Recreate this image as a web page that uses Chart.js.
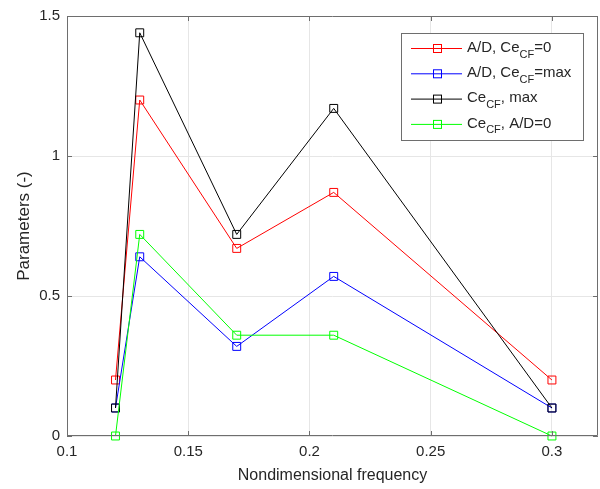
<!DOCTYPE html>
<html>
<head>
<meta charset="utf-8">
<script src="https://cdn.jsdelivr.net/npm/chart.js@4.4.1/dist/chart.umd.min.js"></script>
<style>
  html, body { margin: 0; padding: 0; background: #fff; }
  #wrap { width: 600px; height: 489px; }
</style>
</head>
<body>
<div id="wrap"><canvas id="paramChart" width="600" height="489"></canvas></div>
<script>
// data
const freqs = [0.12, 0.13, 0.17, 0.21, 0.3];
const adCeZero = [0.2, 1.2, 0.67, 0.87, 0.2];
const adCeMax = [0.1, 0.64, 0.32, 0.57, 0.1];
const ceMax = [0.1, 1.44, 0.72, 1.17, 0.1];
const ceAdZero = [0, 0.72, 0.36, 0.36, 0];

const xTicks = [0.1, 0.15, 0.2, 0.25, 0.3];
const xTickLabels = ["0.1", "0.15", "0.2", "0.25", "0.3"];
const yTicks = [0, 0.5, 1, 1.5];
const yTickLabels = ["0", "0.5", "1", "1.5"];

// legend labels: [main, subscript, rest]
const legendLabels = [
    ["A/D, Ce", "CF", "=0"],
    ["A/D, Ce", "CF", "=max"],
    ["Ce", "CF", ", max"],
    ["Ce", "CF", ", A/D=0"]
];
const seriesColors = ["#ff0000", "#0000ff", "#000000", "#00ff00"];

const FONT = "'Liberation Sans', Arial, Helvetica, sans-serif";
const AXIS_COLOR = "#262626";
const FRAME_COLOR = "#6e6e6e";

function to_points(ys) {
    return freqs.map((x, i) => ({ x: x, y: ys[i] }));
}

function make_dataset(ys, idx) {
    return {
        data: to_points(ys),
        borderColor: seriesColors[idx],
        borderWidth: 1,
        backgroundColor: 'rgba(0,0,0,0)',
        pointStyle: 'rect',
        pointRadius: 5.6,
        pointBorderWidth: 1,
        pointBackgroundColor: 'rgba(0,0,0,0)',
        pointBorderColor: seriesColors[idx],
        tension: 0,
        clip: 8,
        order: 4 - idx
    };
}

// frame, inward ticks and the legend box (MATLAB style)
const framePlugin = {
    id: 'frame',
    afterDatasetsDraw(chart) {
        const ctx = chart.ctx;
        const a = chart.chartArea;
        const xs = chart.scales.x, ys = chart.scales.y;
        ctx.save();
        ctx.strokeStyle = FRAME_COLOR;
        ctx.lineWidth = 1;
        ctx.beginPath();
        ctx.rect(a.left + 0.5, a.top + 0.5, a.right - a.left - 1, a.bottom - a.top - 1);
        ctx.stroke();
        ctx.beginPath();
        xTicks.forEach(v => {
            const px = Math.round(xs.getPixelForValue(v)) + 0.5;
            ctx.moveTo(px, a.bottom); ctx.lineTo(px, a.bottom - 5);
            ctx.moveTo(px, a.top); ctx.lineTo(px, a.top + 5);
        });
        yTicks.forEach(v => {
            const py = Math.round(ys.getPixelForValue(v)) + 0.5;
            ctx.moveTo(a.left, py); ctx.lineTo(a.left + 5, py);
            ctx.moveTo(a.right, py); ctx.lineTo(a.right - 5, py);
        });
        ctx.stroke();

        // legend
        const bx = 401.5, by = 33.5, bw = 182, bh = 107;
        ctx.fillStyle = '#fff';
        ctx.fillRect(bx, by, bw, bh);
        ctx.strokeStyle = FRAME_COLOR;
        ctx.strokeRect(bx, by, bw, bh);
        legendLabels.forEach((lab, i) => {
            const cy = 48.5 + i * 25.3;
            ctx.strokeStyle = seriesColors[i];
            ctx.beginPath();
            ctx.moveTo(411, cy); ctx.lineTo(462, cy);
            ctx.stroke();
            ctx.strokeRect(433.5, cy - 4, 8, 8);
            ctx.fillStyle = AXIS_COLOR;
            ctx.textBaseline = 'middle';
            ctx.textAlign = 'left';
            let tx = 467;
            ctx.font = "15px " + FONT;
            ctx.fillText(lab[0], tx, cy - 1);
            tx += ctx.measureText(lab[0]).width;
            ctx.font = "11px " + FONT;
            ctx.fillText(lab[1], tx, cy + 6);
            tx += ctx.measureText(lab[1]).width;
            ctx.font = "15px " + FONT;
            ctx.fillText(lab[2], tx, cy - 1);
        });
        ctx.restore();
    }
};

new Chart("paramChart", {
    type: 'line',
    data: {
        datasets: [
            make_dataset(adCeZero, 0),
            make_dataset(adCeMax, 1),
            make_dataset(ceMax, 2),
            make_dataset(ceAdZero, 3)
        ]
    },
    options: {
        responsive: false,
        animation: false,
        layout: { autoPadding: false, padding: { top: 16, right: 2, left: 0, bottom: 0 } },
        plugins: {
            legend: { display: false },
            tooltip: { enabled: false }
        },
        scales: {
            x: {
                type: 'linear',
                min: 0.1,
                max: 0.319,
                afterBuildTicks: scale => { scale.ticks = xTicks.map(v => ({ value: v })); },
                afterFit: scale => { scale.height = 53; },
                ticks: {
                    autoSkip: false,
                    maxRotation: 0,
                    padding: 7,
                    color: AXIS_COLOR,
                    font: { family: FONT, size: 15 },
                    callback: (v, i) => xTickLabels[i]
                },
                grid: { color: '#e6e6e6', drawTicks: false, lineWidth: 1 },
                border: { display: false },
                title: {
                    display: true,
                    text: 'Nondimensional frequency',
                    color: AXIS_COLOR,
                    font: { family: FONT, size: 16 },
                    padding: { top: 6 }
                }
            },
            y: {
                type: 'linear',
                min: 0,
                max: 1.5,
                afterBuildTicks: scale => { scale.ticks = yTicks.map(v => ({ value: v })); },
                afterFit: scale => { scale.width = 67; },
                ticks: {
                    autoSkip: false,
                    padding: 7,
                    color: AXIS_COLOR,
                    font: { family: FONT, size: 15 },
                    callback: (v, i) => yTickLabels[i]
                },
                grid: { color: '#e6e6e6', drawTicks: false, lineWidth: 1 },
                border: { display: false },
                title: {
                    display: true,
                    text: 'Parameters (-)',
                    color: AXIS_COLOR,
                    font: { family: FONT, size: 17 },
                    padding: { top: 14, bottom: 4 }
                }
            }
        }
    },
    plugins: [framePlugin]
});
</script>
</body>
</html>
